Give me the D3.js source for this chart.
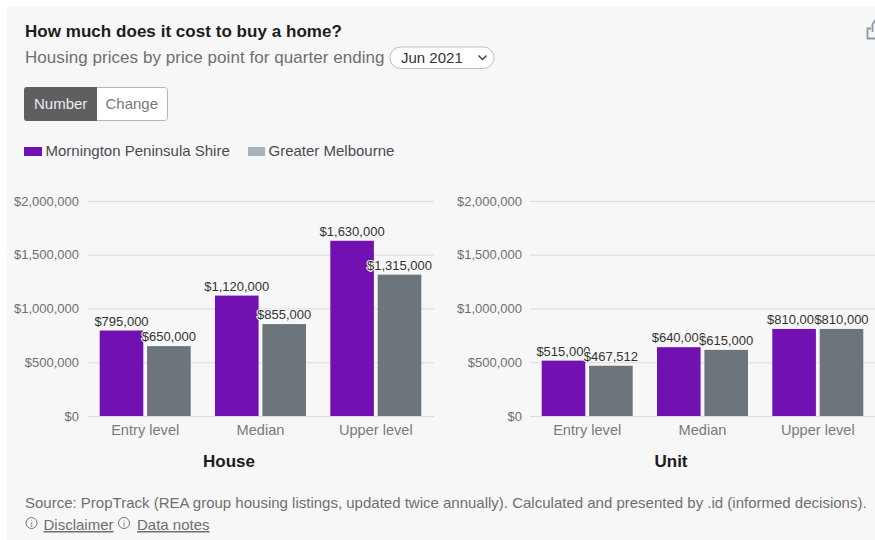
<!DOCTYPE html>
<html>
<head>
<meta charset="utf-8">
<script src="https://cdn.jsdelivr.net/npm/d3@7/dist/d3.min.js"></script>
<style>
  html, body { margin: 0; padding: 0; background: #fff; overflow: hidden; }
  svg { display: block; font-family: "Liberation Sans", Arial, sans-serif; }
  .tick text { font-size: 13px; fill: #6f6f6f; }
  .cat .tick text { font-size: 14.6px; fill: #7a7a7a; }
  .val { font-size: 13px; fill: #333; text-anchor: middle; paint-order: stroke; stroke: #f7f7f7; stroke-width: 2px; stroke-linejoin: round; }
</style>
</head>
<body>
<svg id="chart" width="875" height="540"></svg>
<script>
const priceLevels = ["Entry level", "Median", "Upper level"];
const seriesNames = ["Mornington Peninsula Shire", "Greater Melbourne"];
const seriesColors = ["#7211b1", "#6c747c"];
const legendColors = ["#7211b1", "#a9b2ba"];
const houseLocal = [795000, 1120000, 1630000];
const houseMetro = [650000, 855000, 1315000];
const unitLocal = [515000, 640000, 810000];
const unitMetro = [467512, 615000, 810000];
const yTicks = [0, 500000, 1000000, 1500000, 2000000];

const svg = d3.select("#chart");
const money = d3.format("$,.0f");

svg.append("rect").attr("x", 7).attr("y", 7).attr("width", 868).attr("height", 533).attr("fill", "#f7f7f7");

function label(x, y, text, size, fill, weight) {
  return svg.append("text").attr("x", x).attr("y", y).text(text)
    .attr("font-size", size).attr("fill", fill).attr("font-weight", weight || "normal");
}

// Heading and period selector
label(25, 37, "How much does it cost to buy a home?", 17, "#1c1c1c", "bold").attr("letter-spacing", 0.04);
label(25, 63, "Housing prices by price point for quarter ending", 17, "#6f6f6f").attr("letter-spacing", 0.05);
svg.append("rect").attr("x", 390).attr("y", 47).attr("width", 104).attr("height", 21.5).attr("rx", 10.7)
  .attr("fill", "#fff").attr("stroke", "#bdbdbd");
label(401, 63, "Jun 2021", 15, "#333");
svg.append("path").attr("d", "M478.5 55.5l4 4 4-4").attr("fill", "none").attr("stroke", "#444").attr("stroke-width", 1.5);

// Share icon, cut off by the right edge
svg.append("path").attr("d", "M871 28.5h-3.500v10h9M872.500 32v-8l3.500-4.500")
  .attr("fill", "none").attr("stroke", "#8a97a8").attr("stroke-width", 1.8);

// Number / Change toggle
svg.append("rect").attr("x", 24.500).attr("y", 87.500).attr("width", 143).attr("height", 33).attr("rx", 3)
  .attr("fill", "#fff").attr("stroke", "#b5b5b5");
svg.append("path").attr("d", "M27 87h70v34h-70a3 3 0 0 1-3-3v-28a3 3 0 0 1 3-3z").attr("fill", "#5e5f61");
label(34, 109, "Number", 15, "#ececec");
label(105.500, 109, "Change", 15, "#7a7a7a");

// Legend
seriesNames.forEach((name, i) => {
  const x = [24, 248][i], tx = [45.500, 268.500][i];
  svg.append("rect").attr("x", x).attr("y", 147).attr("width", [18, 17][i]).attr("height", 9).attr("fill", legendColors[i]);
  label(tx, 156, name, 15, "#4a4a52");
});

// One grouped-bar panel with its own axes
function drawPanel(left, right, title, titleX, local, metro, tickGap) {
  const y = d3.scaleLinear().domain([0, 2000000]).range([416, 201]);
  const x0 = d3.scaleBand().domain(priceLevels).range([left, right - 1]).paddingInner(0.2108).paddingOuter(0.1015);
  const x1 = d3.scaleBand().domain(seriesNames).range([0, x0.bandwidth()]).paddingInner(0.08);
  const g = svg.append("g");

  const yAxis = d3.axisLeft(y).tickValues(yTicks).tickFormat(money).tickSize(0).tickPadding(tickGap);
  const ya = g.append("g").attr("transform", `translate(${left},0)`).call(yAxis);
  ya.select(".domain").remove();
  ya.selectAll(".tick line").attr("x2", right - left).attr("stroke", "#dcdcdc").attr("stroke-width", 1.2);

  const xAxis = d3.axisBottom(x0).tickSize(0).tickPadding(9);
  const xa = g.append("g").attr("class", "cat").attr("transform", "translate(0,416)").call(xAxis);
  xa.select(".domain").remove();

  [local, metro].forEach((values, s) => {
    const rows = priceLevels.map((c, i) => ({ c, v: values[i] }));
    g.selectAll(null).data(rows).join("rect")
      .attr("x", d => x0(d.c) + x1(seriesNames[s]))
      .attr("y", d => y(d.v))
      .attr("width", x1.bandwidth())
      .attr("height", d => y(0) - y(d.v))
      .attr("fill", seriesColors[s]);
  });
  // Value labels sit above the bars, over both series
  [local, metro].forEach((values, s) => {
    const rows = priceLevels.map((c, i) => ({ c, v: values[i] }));
    g.selectAll(null).data(rows).join("text")
      .attr("class", "val")
      .attr("x", d => x0(d.c) + x1(seriesNames[s]) + x1.bandwidth() / 2)
      .attr("y", d => y(d.v) - 5)
      .text(d => money(d.v));
  });
  label(titleX, 467, title, 17, "#1c1c1c", "bold").attr("text-anchor", "middle");
}

drawPanel(88, 434, "House", 229, houseLocal, houseMetro, 9);
drawPanel(530, 876, "Unit", 671, unitLocal, unitMetro, 8);

// Source and links
label(25, 508, "Source: PropTrack (REA group housing listings, updated twice annually). Calculated and presented by .id (informed decisions).", 15, "#6f6f6f");
[[31.500, "Disclaimer", 43.500], [124, "Data notes", 137]].forEach(([cx, text, tx]) => {
  svg.append("circle").attr("cx", cx).attr("cy", 523).attr("r", 5.500).attr("fill", "none").attr("stroke", "#777");
  label(cx - 1, 526.500, "i", 9, "#777");
  label(tx, 530, text, 15, "#6f6f6f").attr("text-decoration", "underline");
});
</script>
</body>
</html>
